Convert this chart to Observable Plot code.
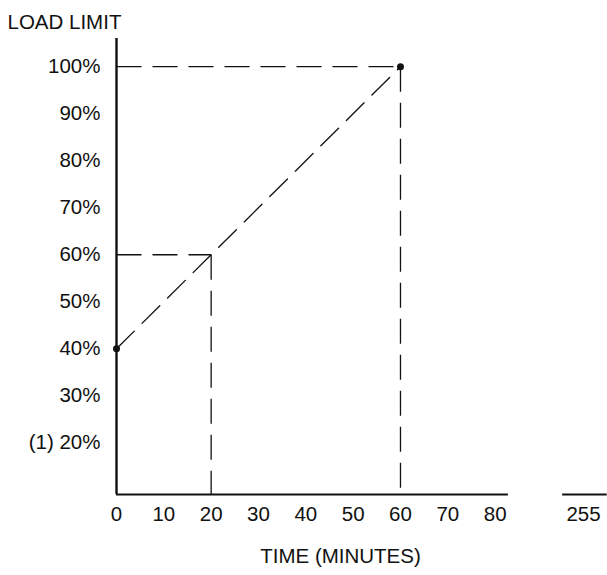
<!DOCTYPE html>
<html>
<head>
<meta charset="utf-8">
<script src="https://cdn.jsdelivr.net/npm/d3@7"></script>
<script src="https://cdn.jsdelivr.net/npm/@observablehq/plot@0.6"></script>
<style>
  html, body { margin: 0; padding: 0; background: #fff; }
</style>
</head>
<body>
<div id="chart"></div>
<script>
// --- data ---
const xTicks = [0, 10, 20, 30, 40, 50, 60, 70, 80, 255];
const yTicks = [20, 30, 40, 50, 60, 70, 80, 90, 100];
const rampTime = [0, 60];          // minutes
const rampLoad = [40, 100];        // % load limit
const guideTime = [20, 60];        // reference verticals
const guideLoad = [60, 100];       // reference horizontals
const xBreakMain = [0, 82.8];
const xBreakTail = [250.6, 260];

const ramp = rampTime.map((t, i) => ({time: t, load: rampLoad[i]}));
const guides = guideTime.map((t, i) => ({time: t, load: guideLoad[i]}));

const dash = "25,11";
const chart = Plot.plot({
  width: 607,
  height: 575,
  marginLeft: 116,
  marginRight: 0,
  marginTop: 38,
  marginBottom: 81,
  style: {fontSize: "20.5px", fontFamily: "'Liberation Sans', Arial, sans-serif", color: "#111", background: "#fff"},
  x: {
    type: "linear",
    domain: [0, 85, 250, 260],
    range: [116, 518.3, 559.3, 606.7],
    ticks: xTicks,
    tickSize: 0,
    tickPadding: 12,
    label: null
  },
  y: {
    domain: [9, 106],
    range: [494, 38],
    ticks: yTicks,
    tickSize: 0,
    tickPadding: 16,
    tickFormat: d => d === 20 ? "(1) 20%" : d + "%",
    label: null
  },
  marks: [
    // horizontal reference dashes
    Plot.link(guides, {x1: 0, x2: "time", y1: "load", y2: "load", stroke: "#111", strokeWidth: 1.3, strokeDasharray: dash}),
    // vertical reference dashes
    Plot.link(guides, {x1: "time", x2: "time", y1: "load", y2: 9, stroke: "#111", strokeWidth: 1.3, strokeDasharray: dash}),
    // ramp line
    Plot.line(ramp, {x: "time", y: "load", stroke: "#111", strokeWidth: 1.3, strokeDasharray: dash}),
    // axis lines
    Plot.ruleX([0], {y1: 9, y2: 106, stroke: "#111", strokeWidth: 2.4}),
    Plot.ruleY([9], {x1: xBreakMain[0], x2: xBreakMain[1], stroke: "#111", strokeWidth: 2.2}),
    Plot.ruleY([9], {x1: xBreakTail[0], x2: xBreakTail[1], stroke: "#111", strokeWidth: 2.2}),
    // endpoints
    Plot.dot(ramp, {x: "time", y: "load", r: 3.5, fill: "#111", stroke: null}),
    // titles
    Plot.text(["LOAD LIMIT"], {frameAnchor: "top-left", dx: -109, dy: -24, textAnchor: "start", fill: "#111"}),
    Plot.text(["TIME (MINUTES)"], {frameAnchor: "bottom-left", dx: 224, dy: 68, textAnchor: "middle", fill: "#111"})
  ]
});
document.getElementById("chart").appendChild(chart);
</script>
</body>
</html>
